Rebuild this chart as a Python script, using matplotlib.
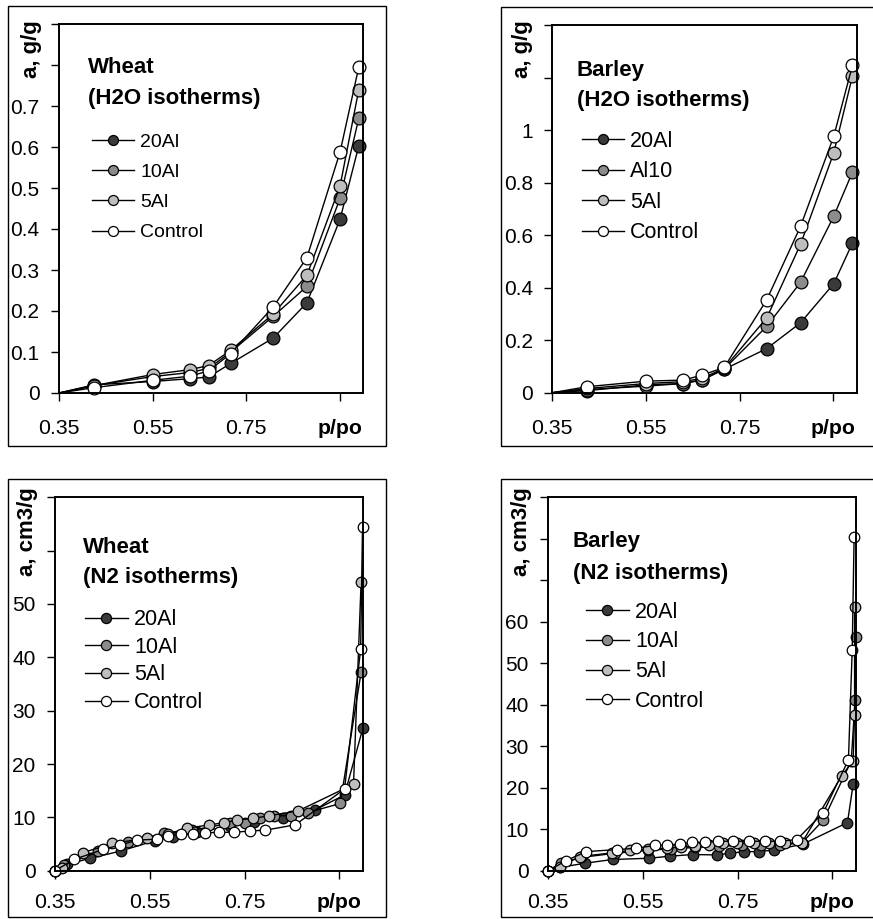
import matplotlib
matplotlib.use("Agg")
import matplotlib.pyplot as plt
from matplotlib.patches import Rectangle

plt.rcParams['font.family'] = ['Liberation Sans', 'DejaVu Sans']

W, H = 873, 919

# ---------------- data ----------------
face_colors = ['#3a3a3a', '#8c8c8c', '#bebebe', '#ffffff']
labels_std = ['20Al', '10Al', '5Al', 'Control']
labels_barley_h2o = ['20Al', 'Al10', '5Al', 'Control']

# Wheat, H2O isotherms
h2o_x = [0.35, 0.425, 0.55, 0.63, 0.67, 0.717, 0.808, 0.88, 0.951, 0.991]
wheat_h2o_20al = [0, 0.020, 0.028, 0.035, 0.039, 0.072, 0.134, 0.220, 0.424, 0.603]
wheat_h2o_10al = [0, 0.018, 0.040, 0.050, 0.060, 0.100, 0.187, 0.260, 0.475, 0.670]
wheat_h2o_5al = [0, 0.018, 0.045, 0.057, 0.067, 0.104, 0.193, 0.287, 0.505, 0.740]
wheat_h2o_ctrl = [0, 0.013, 0.031, 0.041, 0.054, 0.096, 0.210, 0.330, 0.588, 0.795]

# Barley, H2O isotherms
barley_h2o_20al = [0, 0.008, 0.030, 0.035, 0.048, 0.089, 0.168, 0.266, 0.415, 0.570]
barley_h2o_10al = [0, 0.012, 0.025, 0.035, 0.050, 0.090, 0.253, 0.420, 0.672, 0.840]
barley_h2o_5al = [0, 0.016, 0.035, 0.042, 0.055, 0.093, 0.285, 0.565, 0.913, 1.206]
barley_h2o_ctrl = [0, 0.023, 0.044, 0.048, 0.067, 0.096, 0.354, 0.633, 0.976, 1.247]

# Wheat, N2 isotherms
wheat_n2_20al_x = [0.35, 0.375, 0.424, 0.489, 0.56, 0.60, 0.65, 0.72, 0.77, 0.831, 0.899, 0.961, 1.0]
wheat_n2_20al_y = [0, 1.2, 2.3, 3.7, 5.6, 6.4, 7.2, 8.4, 9.2, 9.95, 11.4, 14.2, 26.8]
wheat_n2_10al_x = [0.35, 0.37, 0.441, 0.505, 0.579, 0.64, 0.72, 0.751, 0.783, 0.813, 0.847, 0.883, 0.952, 0.996]
wheat_n2_10al_y = [0, 1.0, 3.6, 5.4, 7.0, 7.6, 8.9, 9.0, 9.8, 10.3, 10.3, 10.9, 12.6, 37.2]
wheat_n2_5al_x = [0.35, 0.364, 0.41, 0.47, 0.544, 0.589, 0.628, 0.676, 0.707, 0.735, 0.768, 0.801, 0.863, 0.98, 0.996]
wheat_n2_5al_y = [0, 0.5, 3.4, 5.1, 6.1, 6.9, 7.95, 8.6, 9.0, 9.5, 9.8, 10.3, 11.2, 16.2, 54.1]
wheat_n2_ctrl_x = [0.35, 0.39, 0.452, 0.487, 0.524, 0.565, 0.589, 0.616, 0.641, 0.667, 0.697,
                   0.728, 0.762, 0.794, 0.857, 0.961, 0.995, 0.999]
wheat_n2_ctrl_y = [0, 2.1, 4.0, 4.8, 5.75, 5.9, 6.5, 6.8, 6.9, 7.1, 7.2,
                   7.2, 7.45, 7.6, 8.6, 15.3, 41.5, 64.5]

# Barley, N2 isotherms
barley_n2_20al_x = [0.35, 0.375, 0.427, 0.486, 0.563, 0.607, 0.655, 0.706, 0.734, 0.763, 0.795,
                    0.827, 0.887, 0.982, 0.994]
barley_n2_20al_y = [0, 0.8, 1.8, 2.7, 3.0, 3.5, 3.9, 3.8, 4.2, 4.6, 4.6, 5.0, 6.35, 11.6, 20.9]
barley_n2_10al_x = [0.35, 0.377, 0.42, 0.49, 0.56, 0.61, 0.66, 0.71, 0.76, 0.80, 0.84, 0.885,
                    0.931, 0.99, 0.998, 0.999]
barley_n2_10al_y = [0, 1.9, 3.2, 4.2, 4.9, 5.3, 5.6, 5.9, 6.1, 6.2, 6.3, 6.6, 12.2, 26.5, 41.1, 56.4]
barley_n2_5al_x = [0.35, 0.375, 0.417, 0.484, 0.523, 0.56, 0.60, 0.63, 0.66, 0.69, 0.72, 0.749,
                   0.785, 0.816, 0.85, 0.885, 0.97, 0.994, 0.997, 0.997]
barley_n2_5al_y = [0, 1.0, 3.4, 4.3, 4.9, 5.2, 5.4, 5.7, 5.9, 6.1, 6.6, 6.6, 6.6, 6.6, 6.7, 6.6,
                   22.9, 26.5, 37.5, 63.6]
barley_n2_ctrl_x = [0.35, 0.387, 0.43, 0.496, 0.535, 0.575, 0.601, 0.628, 0.653, 0.681, 0.708,
                    0.741, 0.775, 0.808, 0.839, 0.875, 0.931, 0.984, 0.992, 0.996]
barley_n2_ctrl_y = [0, 2.4, 4.6, 5.1, 5.4, 6.1, 6.1, 6.5, 6.8, 6.8, 7.1, 7.1, 7.1, 7.1, 7.1, 7.5,
                    14.0, 26.7, 53.2, 80.5]

x_ticks = [0.35, 0.55, 0.75, 0.95]
x_tick_labels = ['0.35', '0.55', '0.75', 'p/po']

wheat_h2o_yticks = [0, 0.1, 0.2, 0.3, 0.4, 0.5, 0.6, 0.7, 0.8, 0.9]
wheat_h2o_ylabels = ['0', '0.1', '0.2', '0.3', '0.4', '0.5', '0.6', '0.7', '', '']
barley_h2o_yticks = [0, 0.2, 0.4, 0.6, 0.8, 1.0, 1.2, 1.4]
barley_h2o_ylabels = ['0', '0.2', '0.4', '0.6', '0.8', '1', '', '']
wheat_n2_yticks = [0, 10, 20, 30, 40, 50, 60, 70]
wheat_n2_ylabels = ['0', '10', '20', '30', '40', '50', '', '']
barley_n2_yticks = [0, 10, 20, 30, 40, 50, 60, 70, 80, 90]
barley_n2_ylabels = ['0', '10', '20', '30', '40', '50', '60', '', '', '']

# ---------------- figure ----------------
fig = plt.figure(figsize=(W / 100, H / 100), dpi=100)


def px_rect(left, top, right, bottom):
    return [left / W, 1 - bottom / H, (right - left) / W, (bottom - top) / H]


def frame(left, top, right, bottom):
    fig.add_artist(Rectangle((left / W, 1 - bottom / H), (right - left) / W, (bottom - top) / H,
                             transform=fig.transFigure, fill=False, edgecolor='black',
                             linewidth=1.0, zorder=0))


frame(8, 6, 386, 446)
frame(501, 7, 890, 446)
frame(8, 479, 386, 917)
frame(501, 479, 890, 917)

panels = [
    dict(rect=px_rect(59, 24, 363, 393), xs=[h2o_x] * 4,
         ys=[wheat_h2o_20al, wheat_h2o_10al, wheat_h2o_5al, wheat_h2o_ctrl],
         labels=labels_std, ylim=(0, 0.9), yticks=wheat_h2o_yticks, yticklabels=wheat_h2o_ylabels,
         ylabel='a, g/g', ylabel_pos=(-0.089, 1.011),
         title=('Wheat', '(H2O isotherms)'), title_pos=(0.095, 0.8816, 0.7984),
         leg_pos=(0.1076, 0.7043), leg_fs=14, leg_ls=0.65, leg_hl=2.2,
         ms=9.2, mscale=0.78, skip_first=True, xpad=13),
    dict(rect=px_rect(552.3, 25, 856.7, 392.7), xs=[h2o_x] * 4,
         ys=[barley_h2o_20al, barley_h2o_10al, barley_h2o_5al, barley_h2o_ctrl],
         labels=labels_barley_h2o, ylim=(0, 1.4), yticks=barley_h2o_yticks,
         yticklabels=barley_h2o_ylabels,
         ylabel='a, g/g', ylabel_pos=(-0.097, 1.0136),
         title=('Barley', '(H2O isotherms)'), title_pos=(0.080, 0.8757, 0.796),
         leg_pos=(0.0966, 0.7123), leg_fs=15.5, leg_ls=0.44, leg_hl=1.95,
         ms=9.2, mscale=0.78, skip_first=True, xpad=13),
    dict(rect=px_rect(55, 497.3, 363, 870.7),
         xs=[wheat_n2_20al_x, wheat_n2_10al_x, wheat_n2_5al_x, wheat_n2_ctrl_x],
         ys=[wheat_n2_20al_y, wheat_n2_10al_y, wheat_n2_5al_y, wheat_n2_ctrl_y],
         labels=labels_std, ylim=(0, 70), yticks=wheat_n2_yticks, yticklabels=wheat_n2_ylabels,
         ylabel='a, cm3/g', ylabel_pos=(-0.088, 1.028),
         title=('Wheat', '(N2 isotherms)'), title_pos=(0.092, 0.866, 0.7857),
         leg_pos=(0.0974, 0.7006), leg_fs=15.5, leg_ls=0.31, leg_hl=1.98,
         ms=7.6, mscale=0.96, skip_first=False, xpad=10),
    dict(rect=px_rect(548.3, 497.3, 856, 870.7),
         xs=[barley_n2_20al_x, barley_n2_10al_x, barley_n2_5al_x, barley_n2_ctrl_x],
         ys=[barley_n2_20al_y, barley_n2_10al_y, barley_n2_5al_y, barley_n2_ctrl_y],
         labels=labels_std, ylim=(0, 90), yticks=barley_n2_yticks, yticklabels=barley_n2_ylabels,
         ylabel='a, cm3/g', ylabel_pos=(-0.086, 1.027),
         title=('Barley', '(N2 isotherms)'), title_pos=(0.079, 0.881, 0.7965),
         leg_pos=(0.1225, 0.7209), leg_fs=15.5, leg_ls=0.41, leg_hl=1.98,
         ms=7.6, mscale=0.96, skip_first=False, xpad=10),
]

for p in panels:
    ax = fig.add_axes(p['rect'])
    for xs, ys, lab, fc in zip(p['xs'], p['ys'], p['labels'], face_colors):
        every = list(range(1, len(xs))) if p['skip_first'] else None
        ax.plot(xs, ys, color='black', linewidth=1.0, marker='o', markersize=p['ms'],
                markerfacecolor=fc, markeredgecolor='black', markeredgewidth=0.9,
                markevery=every, label=lab, clip_on=False)
    ax.set_xlim(0.35, 1.0)
    ax.set_ylim(*p['ylim'])
    ax.set_xticks(x_ticks)
    ax.set_xticklabels(x_tick_labels, fontsize=15.3)
    ax.get_xticklabels()[-1].set_fontweight('bold')
    ax.set_yticks(p['yticks'])
    ax.set_yticklabels(p['yticklabels'], fontsize=15)
    ax.tick_params(axis='x', direction='out', length=6, width=1.0, pad=p['xpad'])
    ax.tick_params(axis='y', direction='out', length=6, width=1.0, pad=8)
    for s in ax.spines.values():
        s.set_linewidth(1.4)
    ax.text(p['ylabel_pos'][0], p['ylabel_pos'][1], p['ylabel'], transform=ax.transAxes,
            rotation=90, ha='center', va='top', fontsize=16, fontweight='bold')
    tx, ty1, ty2 = p['title_pos']
    ax.text(tx, ty1, p['title'][0], transform=ax.transAxes, ha='left', va='center',
            fontsize=16, fontweight='bold')
    ax.text(tx, ty2, p['title'][1], transform=ax.transAxes, ha='left', va='center',
            fontsize=16, fontweight='bold')
    ax.legend(loc='upper left', bbox_to_anchor=p['leg_pos'], frameon=False,
              fontsize=p['leg_fs'], handlelength=p['leg_hl'], handletextpad=0.3,
              labelspacing=p['leg_ls'], borderpad=0, borderaxespad=0,
              markerscale=p['mscale'])

fig.savefig('out.png', dpi=100)
